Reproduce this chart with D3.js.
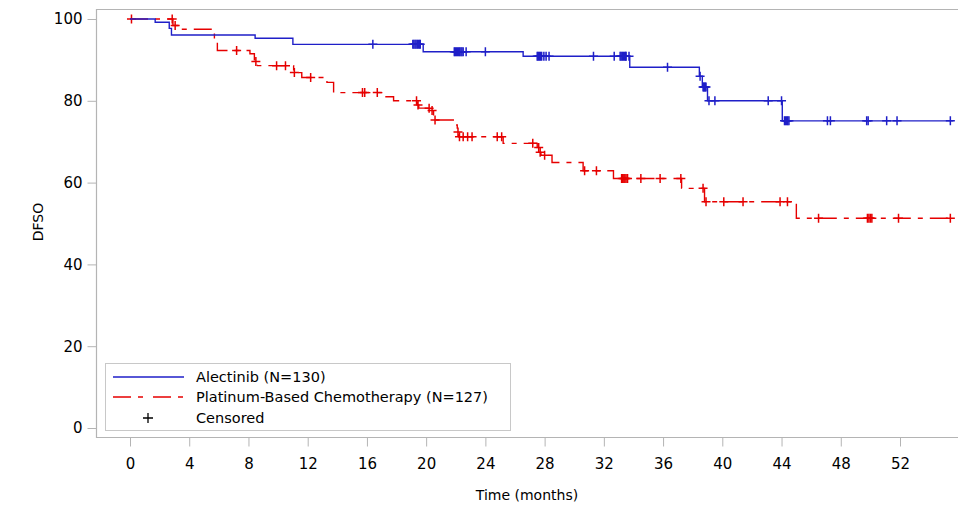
<!DOCTYPE html>
<html>
<head>
<meta charset="utf-8">
<script src="https://cdn.jsdelivr.net/npm/d3@7"></script>
<style>
  body { margin: 0; background: #fff; }
  svg { font-family: "DejaVu Sans", Verdana, sans-serif; }
</style>
</head>
<body>
<script>
// Kaplan-Meier steps: [month, DFS %] after each drop
const alectinibSteps = [[0, 100], [1.7, 99.2], [2.65, 97.7], [2.8, 96.1], [8.45, 95.3], [11.0, 93.8],
  [19.8, 92.0], [26.55, 90.9], [33.75, 88.2], [38.45, 86.0], [38.65, 83.4], [39.0, 80.0], [44.05, 75.1]];
const alectinibEnd = 55.6;
const alectinibCensored = [16.4, 19.1, 19.17, 19.25, 19.32, 19.4, 19.47, 19.55, 19.6, 21.9, 21.97, 22.05,
  22.12, 22.2, 22.27, 22.35, 22.42, 22.5, 22.7, 24.0, 27.5, 27.57, 27.65, 27.72, 27.8, 27.95, 28.1, 28.3,
  31.3, 32.7, 33.1, 33.17, 33.25, 33.32, 33.4, 33.47, 33.5, 33.7,
  36.3, 38.5, 38.7, 38.75, 38.8, 38.85, 38.9, 39.1, 39.5, 43.1, 44.0, 44.2, 44.27, 44.35, 44.42, 44.5,
  47.1, 47.3, 49.75, 49.85, 51.1, 51.8, 55.4];

const chemoSteps = [[0, 100], [2.9, 98.4], [3.3, 97.5], [5.7, 95.0], [5.9, 92.3], [8.1, 91.5], [8.4, 89.6],
  [8.6, 88.6], [11.05, 86.9], [11.6, 85.7], [13.3, 84.5], [13.75, 82.0], [17.2, 81.0], [17.8, 80.0],
  [19.4, 79.0], [19.5, 78.2], [20.35, 77.6], [20.5, 75.3], [21.9, 74.1], [22.1, 72.4], [22.2, 71.2],
  [25.2, 69.6], [27.5, 68.6], [27.65, 67.4], [27.75, 66.7], [28.5, 64.9], [30.6, 62.9], [32.65, 61.0],
  [37.25, 58.6], [38.8, 55.3], [45.0, 51.3]];
const chemoEnd = 55.7;
const chemoCensored = [0.1, 2.85, 3.05, 7.2, 8.5, 9.9, 10.5, 11.1, 12.2, 15.7, 15.85, 16.7, 19.35, 19.45,
  20.2, 20.4, 20.6, 22.15, 22.25, 22.5, 22.8, 23.1, 24.8, 25.1, 27.2, 27.6, 27.7, 28.0, 30.7, 31.5,
  33.2, 33.27, 33.35, 33.42, 33.5, 33.6, 34.5, 35.8, 37.2, 38.7, 38.9, 40.1, 41.4, 43.9, 44.4, 46.5,
  49.8, 49.9, 50.0, 50.1, 51.9, 55.4];

const xTicks = [0, 4, 8, 12, 16, 20, 24, 28, 32, 36, 40, 44, 48, 52];
const yTicks = [0, 20, 40, 60, 80, 100];
const legendLabels = ["Alectinib (N=130)", "Platinum-Based Chemotherapy (N=127)", "Censored"];

const width = 958, height = 508;
const blue = "#1f1fc8", red = "#e60000", axisGray = "#b4b4b4", ink = "#000";

let svg = d3.select("body")
    .append("svg")
    .attr("width", width)
    .attr("height", height);

let x = d3.scaleLinear().domain([0, 52]).range([130, 900]);
let y = d3.scaleLinear().domain([0, 100]).range([428, 19]);

const frame = {left: 96.5, top: 9.5, bottom: 437.5, right: 960};

// frame
svg.append("path")
    .attr("d", `M${frame.right},${frame.top}H${frame.left}V${frame.bottom}H${frame.right}`)
    .attr("fill", "none")
    .attr("stroke", axisGray)
    .attr("stroke-width", 1.2);

let yAxis = svg.append("g")
    .attr("transform", `translate(${frame.left},0)`)
    .call(d3.axisLeft(y).tickValues(yTicks).tickSize(9).tickPadding(5));
yAxis.select(".domain").remove();

let xAxis = svg.append("g")
    .attr("transform", `translate(0,${frame.bottom})`)
    .call(d3.axisBottom(x).tickValues(xTicks).tickSize(9).tickPadding(12));
xAxis.select(".domain").remove();

svg.selectAll(".tick line").attr("stroke", axisGray);
svg.selectAll(".tick text")
    .attr("fill", ink)
    .style("font-size", "15px")
    .style("font-family", "'DejaVu Sans', sans-serif");

svg.append("text")
    .attr("x", 527)
    .attr("y", 500)
    .attr("text-anchor", "middle")
    .style("font-size", "14px")
    .attr("fill", ink)
    .text("Time (months)");

svg.append("text")
    .attr("transform", "translate(43,222) rotate(-90)")
    .attr("text-anchor", "middle")
    .style("font-size", "14px")
    .attr("fill", ink)
    .text("DFSO");

function valueAt(steps, t) {
    let v = steps[0][1];
    steps.forEach(s => { if (s[0] <= t) v = s[1]; });
    return v;
}

let stepLine = d3.line()
    .x(d => x(d[0]))
    .y(d => y(d[1]))
    .curve(d3.curveStepAfter);

function drawCurve(steps, end, censored, color, dash) {
    let pts = steps.concat([[end, steps[steps.length - 1][1]]]);
    svg.append("path")
        .datum(pts)
        .attr("d", stepLine)
        .attr("fill", "none")
        .attr("stroke", color)
        .attr("stroke-width", 1.4)
        .attr("stroke-dasharray", dash);

    svg.append("g")
        .selectAll("path")
        .data(censored)
        .join("path")
        .attr("d", t => {
            let cx = x(t), cy = y(valueAt(steps, t));
            return `M${cx - 4.5},${cy}H${cx + 4.5}M${cx},${cy - 4.5}V${cy + 4.5}`;
        })
        .attr("stroke", color)
        .attr("stroke-width", 1.5)
        .attr("fill", "none");
}

drawCurve(chemoSteps, chemoEnd, chemoCensored, red, "18,7,5,7");
drawCurve(alectinibSteps, alectinibEnd, alectinibCensored, blue, null);

// legend
let legend = svg.append("g");
legend.append("rect")
    .attr("x", 105.5).attr("y", 363.5)
    .attr("width", 405).attr("height", 67)
    .attr("fill", "#fff")
    .attr("stroke", "#c8c8c8");

const rowY = [377, 397, 418];
legend.append("line")
    .attr("x1", 113).attr("x2", 184).attr("y1", rowY[0]).attr("y2", rowY[0])
    .attr("stroke", blue).attr("stroke-width", 1.4);
legend.append("line")
    .attr("x1", 113).attr("x2", 184).attr("y1", rowY[1]).attr("y2", rowY[1])
    .attr("stroke", red).attr("stroke-width", 1.4)
    .attr("stroke-dasharray", "18,7,5,10");
legend.append("path")
    .attr("d", `M${148 - 5},${rowY[2]}H${148 + 5}M148,${rowY[2] - 5}V${rowY[2] + 5}`)
    .attr("stroke", ink).attr("stroke-width", 1.3);

legend.selectAll("text.lab")
    .data(legendLabels)
    .join("text")
    .attr("class", "lab")
    .attr("x", 196)
    .attr("y", (d, i) => rowY[i])
    .attr("dy", "0.36em")
    .style("font-size", "14.5px")
    .attr("fill", ink)
    .text(d => d);
</script>
</body>
</html>
